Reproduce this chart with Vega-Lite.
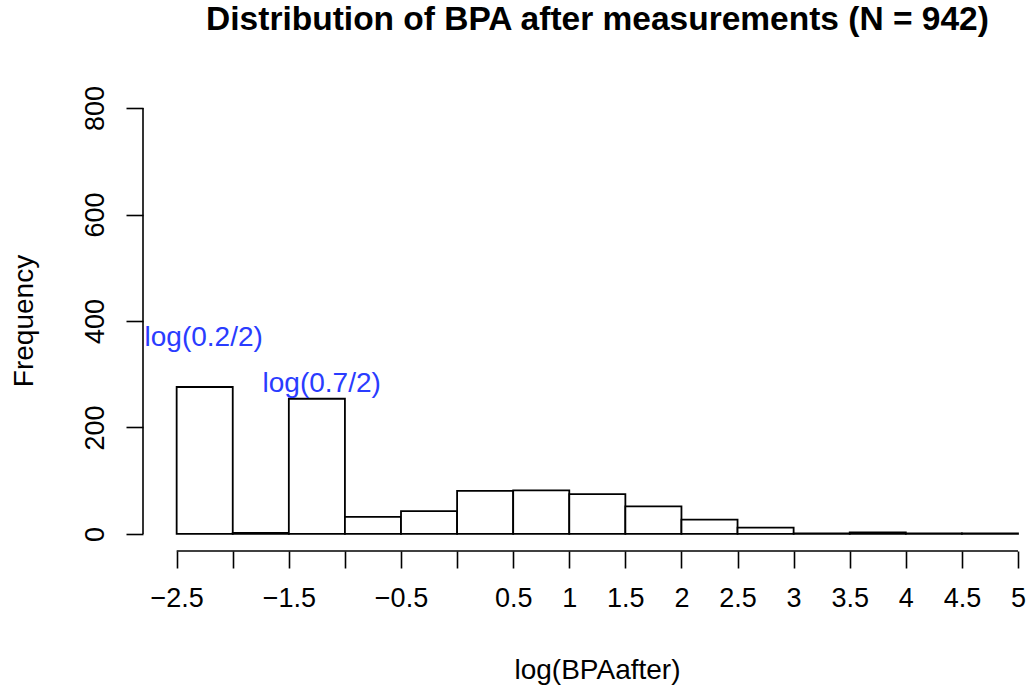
{
  "$schema": "https://vega.github.io/schema/vega-lite/v6.json",
  "width": 888,
  "height": 460,
  "autosize": {"type": "none"},
  "padding": {"left": 143, "top": 91, "right": 0, "bottom": 140},
  "background": "white",
  "title": {
    "text": "Distribution of BPA after measurements (N = 942)",
    "font": "Liberation Sans",
    "fontSize": 33.5,
    "fontWeight": "bold",
    "color": "black",
    "anchor": "middle",
    "frame": "group",
    "dx": 10.5,
    "baseline": "alphabetic",
    "offset": 22
  },
  "config": {
    "view": {"stroke": null},
    "axis": {
      "grid": false,
      "domain": false,
      "tickColor": "black",
      "tickWidth": 1.6,
      "tickSize": 17,
      "labelFont": "Liberation Sans",
      "labelFontSize": 27,
      "labelColor": "black",
      "titleFont": "Liberation Sans",
      "titleFontSize": 28,
      "titleFontWeight": "normal",
      "titleColor": "black",
      "labelOverlap": false,
      "labelFlush": false
    }
  },
  "datasets": {
    "bins": [
      {"bin_start": -2.5, "bin_end": -2.0, "count": 276},
      {"bin_start": -2.0, "bin_end": -1.5, "count": 2},
      {"bin_start": -1.5, "bin_end": -1.0, "count": 254},
      {"bin_start": -1.0, "bin_end": -0.5, "count": 32},
      {"bin_start": -0.5, "bin_end": 0.0, "count": 43},
      {"bin_start": 0.0, "bin_end": 0.5, "count": 81},
      {"bin_start": 0.5, "bin_end": 1.0, "count": 82},
      {"bin_start": 1.0, "bin_end": 1.5, "count": 75},
      {"bin_start": 1.5, "bin_end": 2.0, "count": 52},
      {"bin_start": 2.0, "bin_end": 2.5, "count": 27},
      {"bin_start": 2.5, "bin_end": 3.0, "count": 12},
      {"bin_start": 3.0, "bin_end": 3.5, "count": 1},
      {"bin_start": 3.5, "bin_end": 4.0, "count": 3},
      {"bin_start": 4.0, "bin_end": 4.5, "count": 1},
      {"bin_start": 4.5, "bin_end": 5.0, "count": 1}
    ],
    "labels": [
      {"x": -2.259, "y": 353, "label": "log(0.2/2)"},
      {"x": -1.207, "y": 267, "label": "log(0.7/2)"}
    ]
  },
  "layer": [
    {
      "data": {"name": "bins"},
      "mark": {"type": "rect", "fill": "white", "stroke": "black", "strokeWidth": 1.8},
      "encoding": {
        "x": {
          "field": "bin_start",
          "type": "quantitative",
          "scale": {"domain": [-2.8, 5.116], "nice": false, "zero": false},
          "axis": {
            "values": [-2.5, -2, -1.5, -1, -0.5, 0, 0.5, 1, 1.5, 2, 2.5, 3, 3.5, 4, 4.5, 5],
            "labelExpr": "(datum.value == -2 || datum.value == -1 || datum.value == 0) ? '' : format(datum.value, '')",
            "labelPadding": 17,
            "labelBaseline": "top",
            "title": "log(BPAafter)",
            "titleX": 454,
            "titleY": 127,
            "titleBaseline": "alphabetic",
            "titleAnchor": null
          }
        },
        "x2": {"field": "bin_end"},
        "y": {
          "field": "count",
          "type": "quantitative",
          "scale": {"domain": [-32, 832], "nice": false, "zero": false},
          "axis": {
            "values": [0, 200, 400, 600, 800],
            "format": "d",
            "labelAngle": -90,
            "labelAlign": "center",
            "labelBaseline": "alphabetic",
            "labelPadding": 23,
            "title": "Frequency",
            "titleAngle": -90,
            "titleX": -111,
            "titleY": 229.5,
            "titleAlign": "center",
            "titleBaseline": "alphabetic"
          }
        },
        "y2": {"datum": 0}
      }
    },
    {
      "data": {"name": "labels"},
      "mark": {"type": "text", "color": "#2a3cff", "font": "Liberation Sans", "fontSize": 28, "align": "center", "baseline": "alphabetic"},
      "encoding": {
        "x": {"field": "x", "type": "quantitative"},
        "y": {"field": "y", "type": "quantitative"},
        "text": {"field": "label"}
      }
    },
    {
      "data": {"values": [{"x": -2.8, "y": 0, "y2": 800}]},
      "mark": {"type": "rule", "color": "black", "strokeWidth": 1.6},
      "encoding": {
        "x": {"field": "x", "type": "quantitative"},
        "y": {"field": "y", "type": "quantitative"},
        "y2": {"field": "y2"}
      }
    },
    {
      "data": {"values": [{"x": -2.5, "x2": 5, "y": -32}]},
      "mark": {"type": "rule", "color": "black", "strokeWidth": 1.6},
      "encoding": {
        "x": {"field": "x", "type": "quantitative"},
        "x2": {"field": "x2"},
        "y": {"field": "y", "type": "quantitative"}
      }
    }
  ]
}
